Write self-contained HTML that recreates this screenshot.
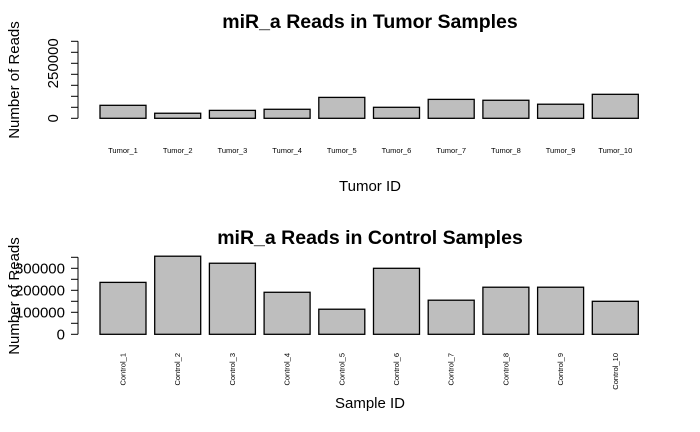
<!DOCTYPE html>
<html><head><meta charset="utf-8"><style>
body{margin:0;background:#fff}
svg{display:block;font-family:"Liberation Sans",Arial,sans-serif}
</style></head><body>
<svg id="c" width="700" height="432"></svg>
<script>
const tumorCats=["Tumor_1","Tumor_2","Tumor_3","Tumor_4","Tumor_5","Tumor_6","Tumor_7","Tumor_8","Tumor_9","Tumor_10"];
const tumorVals=[59000,23000,36000,41000,95000,50000,86000,82000,64000,109000];
const controlCats=["Control_1","Control_2","Control_3","Control_4","Control_5","Control_6","Control_7","Control_8","Control_9","Control_10"];
const controlVals=[236000,355000,323000,191000,114000,300000,155000,214000,214000,150000];
const tumorTickLabels=["0","250000"];
const controlTickLabels=["0","100000","200000","300000"];

const svg=document.getElementById('c');
const NS='http://www.w3.org/2000/svg';
function el(tag,attrs,text){const e=document.createElementNS(NS,tag);for(const k in attrs)e.setAttribute(k,attrs[k]);if(text!==undefined)e.textContent=text;svg.appendChild(e);return e;}

function panel(o){
  const y=v=>o.base-v*o.scale;
  const x=i=>100+54.7*i;
  let t=el('text',{x:370,y:o.titleY,'text-anchor':'middle','font-size':19.5,'font-weight':'bold'},o.title);
  
  let ax=el('line',{x1:78,x2:78,y1:y(0),y2:y(350000),stroke:'#000'});
  
  for(let v=0;v<=350000;v+=50000){let tk=el('line',{x1:71,x2:78,y1:y(v),y2:y(v),stroke:'#000'});
    }
  o.ticks.forEach(l=>{const v=+l;let tl;
    if(o.rot){tl=el('text',{x:0,y:0,transform:`translate(58,${y(v)}) rotate(-90)`,'text-anchor':'middle','font-size':15},l);}
    else{tl=el('text',{x:65,y:y(v)+5,'text-anchor':'end','font-size':15},l);}
    });
  let yl=el('text',{x:0,y:0,transform:`translate(19,${o.ylabY}) rotate(-90)`,'text-anchor':'middle','font-size':15},'Number of Reads');
  
  o.vals.forEach((v,i)=>{
    let b=el('rect',{x:x(i),y:y(v),width:46,height:o.base-y(v),fill:'#bebebe',stroke:'#000','stroke-width':1.3});
    
    let lb;
    if(o.rot){lb=el('text',{x:x(i)+23,y:153,'text-anchor':'middle','font-size':7.5},o.cats[i]);}
    else{lb=el('text',{x:0,y:0,transform:`translate(${x(i)+25.5},353) rotate(-90)`,'text-anchor':'end','font-size':7.5},o.cats[i]);}
    
  });
  let xl=el('text',{x:370,y:o.xlabY,'text-anchor':'middle','font-size':15},o.xlab);
  
}
panel({prefix:'tumor',title:'miR_a Reads in Tumor Samples',titleY:28,base:118.3,scale:22/100000,cats:tumorCats,vals:tumorVals,ticks:tumorTickLabels,rot:true,ylabY:80,xlab:'Tumor ID',xlabY:191});
panel({prefix:'control',title:'miR_a Reads in Control Samples',titleY:244,base:334.3,scale:22/100000,cats:controlCats,vals:controlVals,ticks:controlTickLabels,rot:false,ylabY:296,xlab:'Sample ID',xlabY:408});
</script>
</body></html>
